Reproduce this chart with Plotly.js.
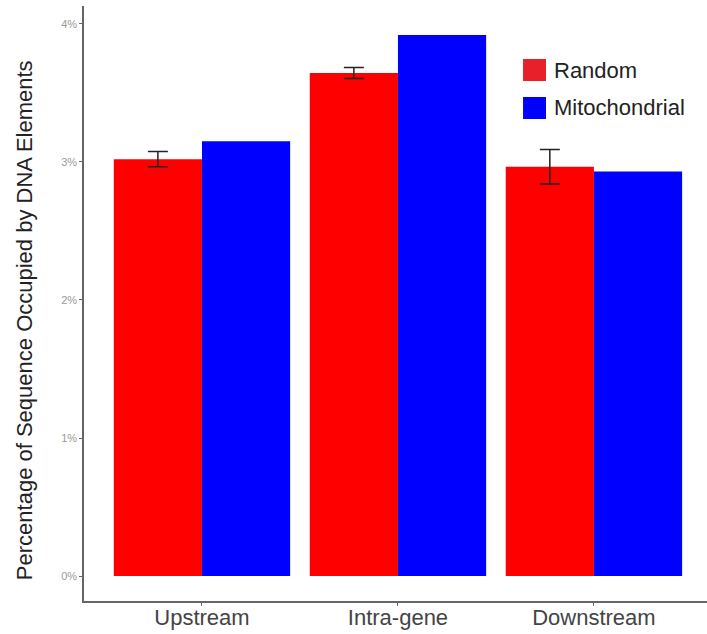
<!DOCTYPE html>
<html>
<head>
<meta charset="utf-8">
<script src="https://cdn.plot.ly/plotly-3.0.1.min.js"></script>
<style>html,body{margin:0;padding:0;background:#fff;}#chart{width:707px;height:634px;}</style>
</head>
<body>
<div id="chart"></div>
<script>
const categories = ["Upstream", "Intra-gene", "Downstream"];
const randomValues = [3.02, 3.645, 2.966];
const randomErrors = [0.055, 0.04, 0.125];
const mitoValues = [3.15, 3.92, 2.93];
const seriesNames = ["Random", "Mitochondrial"];
const seriesColors = ["#ff0000", "#0000ff"];
const legendColors = ["#e8202a", "#0000ff"];
const yTickVals = [0, 1, 2, 3, 4];
const yTickText = ["0%", "1%", "2%", "3%", "4%"];
const yTitle = "Percentage of Sequence Occupied by DNA Elements";

const traces = [
  {
    type: "bar", name: seriesNames[0], x: categories, y: randomValues,
    marker: {color: seriesColors[0]},
    error_y: {type: "data", array: randomErrors, visible: true, color: "#222222", thickness: 1.5, width: 10}
  },
  {
    type: "bar", name: seriesNames[1], x: categories, y: mitoValues,
    marker: {color: seriesColors[1]}
  }
];

// custom legend (larger keys, as in the reference)
const legX0 = 0.7047, legX1 = 0.7416, legTextX = 0.7512;
const legRows = [{y0: 0.8739, y1: 0.9109, yc: 0.8924}, {y0: 0.8101, y1: 0.8471, yc: 0.8286}];
const shapes = legRows.map((r, i) => ({
  type: "rect", xref: "paper", yref: "paper",
  x0: legX0, x1: legX1, y0: r.y0, y1: r.y1,
  fillcolor: legendColors[i], line: {width: 0}
}));
const annotations = legRows.map((r, i) => ({
  xref: "paper", yref: "paper", x: legTextX, y: r.yc,
  xanchor: "left", yanchor: "middle", showarrow: false,
  text: seriesNames[i], font: {size: 22, color: "#222"}
}));
annotations.push({
  xref: "paper", yref: "paper", x: 0, xshift: -60, y: 0.472, yanchor: "middle", xanchor: "center",
  textangle: -90, showarrow: false, text: yTitle, font: {size: 22, color: "#222"}
});

const layout = {
  width: 707, height: 634,
  margin: {l: 84, r: 0, t: 6, b: 33},
  paper_bgcolor: "#fff", plot_bgcolor: "#fff",
  font: {family: "Liberation Sans, Arial, sans-serif"},
  barmode: "group", bargap: 0.1, bargroupgap: 0,
  showlegend: false,
  shapes: shapes,
  annotations: annotations,
  xaxis: {
    type: "category", range: [-0.602, 2.577],
    showline: true, linecolor: "#666", linewidth: 1.5,
    ticks: "outside", ticklen: 3, tickcolor: "#666", ticklabelstandoff: -7,
    tickfont: {size: 22, color: "#444"}, showgrid: false, zeroline: false
  },
  yaxis: {
    range: [-0.181, 4.13],
    tickvals: yTickVals, ticktext: yTickText,
    showline: true, linecolor: "#666", linewidth: 1.5,
    ticks: "outside", ticklen: 3, tickcolor: "#666",
    tickfont: {size: 11, color: "#999"}, showgrid: false, zeroline: false
  }
};

Plotly.newPlot("chart", traces, layout, {displayModeBar: false});
</script>
</body>
</html>
